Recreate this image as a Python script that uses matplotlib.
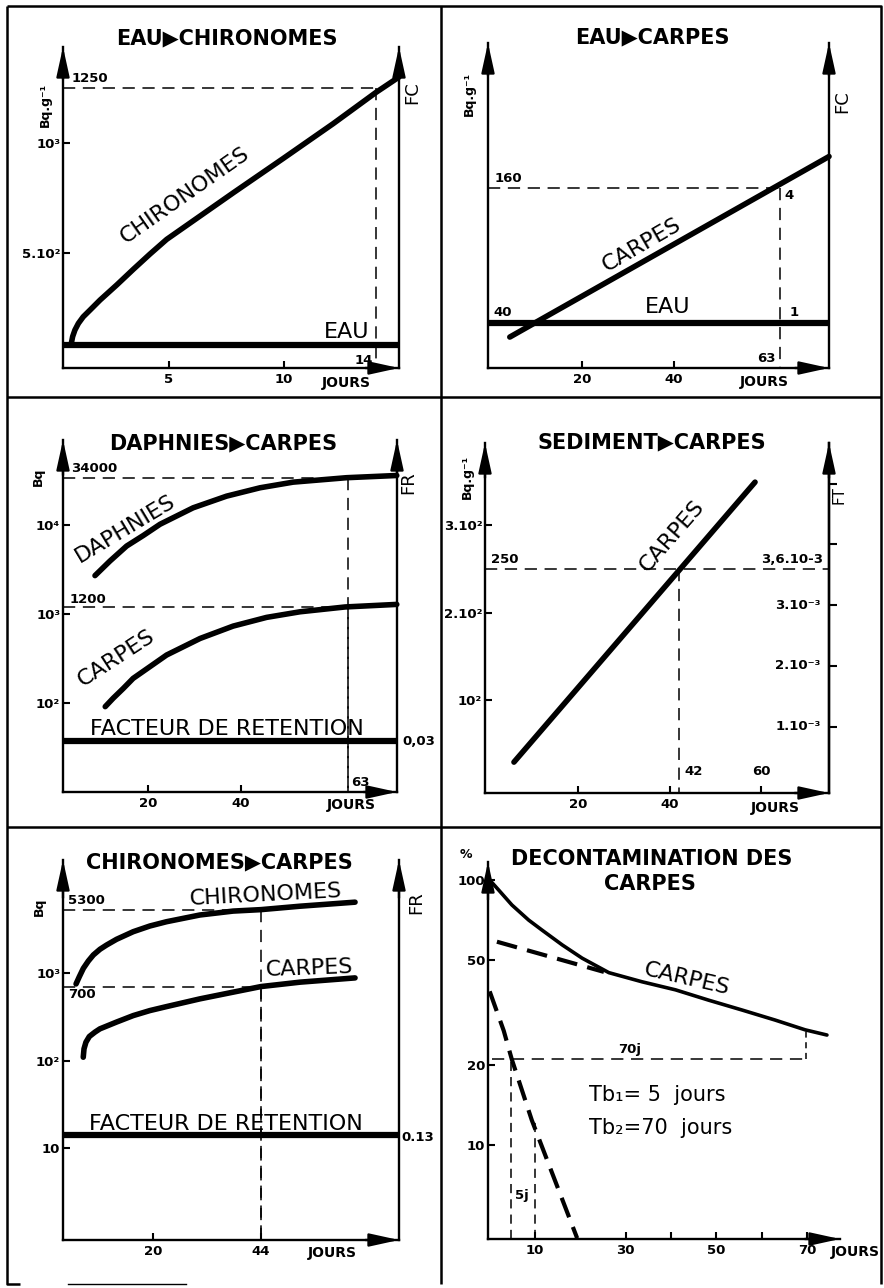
import numpy as np
import matplotlib.pyplot as plt
from matplotlib.ticker import NullLocator

plt.rcParams['font.family'] = ['DejaVu Sans']

W, H = 884, 1288

# ---------------- data ----------------
# EAU > CHIRONOMES  (Bq.g-1, linear)
p1_chiro_days = [0.74, 0.81, 0.91, 1.06, 1.27, 1.57, 2.0, 2.73, 3.45, 4.17, 4.9,
                 6.35, 7.8, 9.97, 12.14, 14.0, 15.0]
p1_chiro_bq = [82, 120, 150, 180, 210, 241, 286, 355, 426, 495, 562,
               668, 774, 930, 1088, 1230, 1300]
p1_eau_days = [0.4, 15.0]
p1_eau_bq = [80, 80]
p1_mark = (14, 1250)
p1_xticks = [5, 10]
p1_yticks = [500, 1000]
p1_ylabels = ['5.10²', '10³']

# EAU > CARPES  (Bq.g-1, linear)
p2_carpes_days = [4.3, 73.7]
p2_carpes_bq = [27.5, 188]
p2_eau_days = [-0.4, 73.7]
p2_eau_bq = [40, 40]
p2_mark = (63, 160)
p2_xticks = [20, 40]

# DAPHNIES > CARPES  (Bq, log)
p3_daph_days = [8.6, 11.8, 15.4, 19.0, 22.6, 29.7, 36.9, 44.1, 51.2, 62.7, 73.5]
p3_daph_bq = [2700, 3930, 5800, 7630, 10200, 15600, 21100, 26200, 30300, 34000, 36000]
p3_carp_days = [10.8, 12.5, 14.7, 16.8, 24.0, 31.2, 38.3, 45.5, 52.7, 62.4, 73.5]
p3_carp_bq = [91, 113, 146, 189, 346, 531, 731, 916, 1059, 1200, 1282]
p3_fr_days = [1.7, 73.5]
p3_fr_bq = [37, 37]
p3_marks = [(63, 34000), (63, 1200)]
p3_xticks = [20, 40]
p3_yticks = [1e2, 1e3, 1e4]
p3_ylabels = ['10²', '10³', '10⁴']

# SEDIMENT > CARPES  (Bq.g-1, linear ; FT on the right)
p4_days = [6.0, 58.7]
p4_carp_bq = [29, 349]
p4_mark = (42, 250)
p4_xticks = [20, 40, 60]
p4_xlabels = ['20', '40', '']
p4_yticks = [100, 200, 300]
p4_ylabels = ['10²', '2.10²', '3.10²']
p4_ft_per_bq = 3.6e-3 / 250
p4_ft_ticks = [1e-3, 2e-3, 3e-3, 4e-3, 5e-3]
p4_ft_labels = ['1.10⁻³', '2.10⁻³', '3.10⁻³', '', '']

# CHIRONOMES > CARPES  (Bq, log)
p5_chiro_days = [2.9, 3.63, 4.52, 5.63, 6.74, 8.22, 9.7, 11.9, 15.6, 19.3, 23.0,
                 30.4, 37.8, 44.0, 52.7, 64.9]
p5_chiro_bq = [750, 908, 1130, 1371, 1607, 1867, 2090, 2427, 2965, 3444, 3855,
               4600, 5100, 5300, 5800, 6450]
p5_carp_days = [4.5, 4.67, 5.1, 5.85, 7.1, 8.2, 11.9, 15.6, 19.3, 23.0, 30.4, 37.8, 44.0, 52.7, 64.9]
p5_carp_bq = [109, 136, 162, 188, 211, 230, 275, 326, 372, 413, 506, 604, 700, 786, 879]
p5_fr_days = [0.0, 74.7]
p5_fr_bq = [14.1, 14.1]
p5_marks = [(44, 5300), (44, 700)]
p5_xticks = [20, 44]
p5_yticks = [10, 100, 1000]
p5_ylabels = ['10', '10²', '10³']

# DECONTAMINATION DES CARPES  (%, log)
p6_days = [0, 2.0, 4.9, 8.6, 11.5, 16.0, 20.4, 26.3, 33.6, 41.0, 48.3, 55.7, 63.0, 69.6, 74.4]
p6_pct = [100, 91.6, 80.5, 70.6, 64.8, 56.9, 50.7, 44.7, 41.3, 38.5, 35.2, 32.3, 29.6, 27.2, 26.0]
p6_slow_days = [1.6, 25.2]
p6_slow_pct = [58.5, 45]
p6_fast_days = [0, 3.1, 4.9, 9.3, 19.3]
p6_fast_pct = [38, 27, 21, 12.4, 4.45]
p6_t1_days = [4.7, 10.0]
p6_t1_pct = [21, 12.4]
p6_t2_days = [0.5, 69.8]
p6_t2_pct = [21.1, 27.2]
p6_xticks = [10, 30, 50, 70]
p6_xminor = [40, 60]
p6_yticks = [10, 20, 50, 100]

# ---------------- styles ----------------
LW_AX = 1.7
LW_CURVE = 4.0
LW_REF = 1.1
DASH_REF = (0, (8, 5))
TICK_SIZE = 9.5

fig = plt.figure(figsize=(W / 100, H / 100), dpi=100)

# frame of the plate
bg = fig.add_axes([0, 0, 1, 1])
bg.set_xlim(0, W)
bg.set_ylim(H, 0)
bg.axis('off')
frame = dict(color='black', lw=1.8, solid_capstyle='butt')
bg.plot([7, 881, 881], [6, 6, 1284], **frame)
bg.plot([7, 7, 20], [6, 1284, 1284], **frame)
bg.plot([68, 186], [1284, 1284], color='black', lw=1.0)
bg.plot([441, 441], [6, 1284], **frame)
bg.plot([7, 881], [397, 397], **frame)
bg.plot([7, 881], [827, 827], **frame)


def ftext(px, py, s, size=10, weight='bold', rot=0, ha='center', va='center'):
    fig.text(px / W, 1 - py / H, s, fontsize=size, fontweight=weight,
             rotation=rot, ha=ha, va=va, rotation_mode='anchor')


def head(ax, start, end):
    ax.annotate('', xy=end, xytext=start, xycoords='axes fraction',
                arrowprops=dict(arrowstyle='-|>,head_length=1.5,head_width=0.33',
                                mutation_scale=12, lw=LW_AX, color='black',
                                shrinkA=0, shrinkB=0),
                annotation_clip=False)


def make_panel(box, xcal, ycal, log=False, right=True):
    left, top, rgt, bottom = box
    ax = fig.add_axes([left / W, 1 - bottom / H, (rgt - left) / W, (bottom - top) / H])
    (xa, pa), (xb, pb) = xcal
    kx = (xb - xa) / (pb - pa)
    ax.set_xlim(xa + (left - pa) * kx, xa + (rgt - pa) * kx)
    (ya, qa), (yb, qb) = ycal
    if log:
        ya, yb = np.log10(ya), np.log10(yb)
    ky = (yb - ya) / (qb - qa)
    lo, hi = ya + (bottom - qa) * ky, ya + (top - qa) * ky
    if log:
        ax.set_yscale('log')
        lo, hi = 10 ** lo, 10 ** hi
    ax.set_ylim(lo, hi)
    ax.patch.set_visible(False)
    ax.spines['top'].set_visible(False)
    ax.spines['right'].set_visible(right)
    for s in ['left', 'bottom', 'right']:
        ax.spines[s].set_linewidth(LW_AX)
    ax.tick_params(direction='in', length=5, width=1.5, labelsize=TICK_SIZE)
    ax.tick_params(axis='x', pad=3.5)
    ax.tick_params(axis='y', pad=2)
    ax.xaxis.set_minor_locator(NullLocator())
    ax.yaxis.set_minor_locator(NullLocator())
    ax.set_yticks([])
    head(ax, (0, 0.9), (0, 1))
    head(ax, (0.9, 0), (1, 0))
    if right:
        head(ax, (1, 0.9), (1, 1))
    return ax


def curve(ax, x, y, lw=LW_CURVE, cap='round', **kw):
    ax.plot(x, y, color='black', lw=lw, solid_capstyle=cap, solid_joinstyle='round',
            clip_on=False, **kw)


def ref_lines(ax, day, val):
    x0 = ax.get_xlim()[0]
    y0 = ax.get_ylim()[0]
    ax.plot([x0, day], [val, val], color='black', lw=LW_REF, ls=DASH_REF)
    ax.plot([day, day], [val, y0], color='black', lw=LW_REF, ls=DASH_REF)


def note(ax, s, xy, off, ha, va, trans='data', size=TICK_SIZE):
    ax.annotate(s, xy=xy, xycoords=trans, xytext=off, textcoords='offset points',
                ha=ha, va=va, fontsize=size, fontweight='bold', annotation_clip=False)


# ---------------- panel 1 : EAU > CHIRONOMES ----------------
ax1 = make_panel((63, 47, 399, 368), ((5, 169), (10, 284)), ((500, 253), (1000, 143)))
curve(ax1, p1_chiro_days, p1_chiro_bq)
curve(ax1, p1_eau_days, p1_eau_bq, lw=4.5, cap='butt')
ref_lines(ax1, *p1_mark)
ax1.set_xticks(p1_xticks, labels=[str(t) for t in p1_xticks], fontweight='bold')
ax1.set_yticks(p1_yticks, labels=p1_ylabels, fontweight='bold')
note(ax1, '1250', (0, p1_mark[1]), (6, 2), 'left', 'bottom', trans=ax1.get_yaxis_transform())
note(ax1, '14', (p1_mark[0], 0), (-2, 1), 'right', 'bottom', trans=ax1.get_xaxis_transform())
ftext(227, 38, 'EAU▶CHIRONOMES', size=15)
ftext(45, 105, 'Bq.g⁻¹', size=9, rot=90)
ftext(412, 93, 'FC', size=13, weight='normal', rot=90)
ftext(347, 332, 'EAU', size=16, weight='normal')
ftext(185, 195, 'CHIRONOMES', size=16, weight='normal', rot=35)
ftext(346, 383, 'JOURS', size=10)

# ---------------- panel 2 : EAU > CARPES ----------------
ax2 = make_panel((488, 43, 829, 368), ((20, 582), (40, 674)), ((40, 323), (160, 188)))
curve(ax2, p2_carpes_days, p2_carpes_bq)
curve(ax2, p2_eau_days, p2_eau_bq, lw=4.5, cap='butt')
ref_lines(ax2, *p2_mark)
ax2.set_xticks(p2_xticks, labels=[str(t) for t in p2_xticks], fontweight='bold')
note(ax2, '160', (0, p2_mark[1]), (5, 2), 'left', 'bottom', trans=ax2.get_yaxis_transform())
note(ax2, '40', (0, p2_eau_bq[0]), (4, 3), 'left', 'bottom', trans=ax2.get_yaxis_transform())
note(ax2, '4', (p2_mark[0], p2_mark[1]), (3, -1), 'left', 'top')
note(ax2, '1', (p2_mark[0], p2_eau_bq[0]), (7, 3), 'left', 'bottom')
note(ax2, '63', (p2_mark[0], 0), (-3, 2), 'right', 'bottom', trans=ax2.get_xaxis_transform())
ftext(652, 37, 'EAU▶CARPES', size=15)
ftext(469, 94, 'Bq.g⁻¹', size=9, rot=90)
ftext(842, 102, 'FC', size=13, weight='normal', rot=90)
ftext(668, 307, 'EAU', size=16, weight='normal')
ftext(642, 245, 'CARPES', size=16, weight='normal', rot=30)
ftext(764, 382, 'JOURS', size=10)

# ---------------- panel 3 : DAPHNIES > CARPES ----------------
ax3 = make_panel((63, 440, 397, 792), ((20, 148), (40, 241)), ((100, 703), (10000, 525)), log=True)
curve(ax3, p3_daph_days, p3_daph_bq)
curve(ax3, p3_carp_days, p3_carp_bq)
curve(ax3, p3_fr_days, p3_fr_bq, lw=4.5, cap='butt')
ref_lines(ax3, p3_marks[1][0], p3_marks[1][1])
ref_lines(ax3, p3_marks[0][0], p3_marks[0][1])
ax3.set_xticks(p3_xticks, labels=[str(t) for t in p3_xticks], fontweight='bold')
ax3.set_yticks(p3_yticks, labels=p3_ylabels, fontweight='bold')
ax3.yaxis.set_minor_locator(NullLocator())
note(ax3, '34000', (0, p3_marks[0][1]), (6, 2), 'left', 'bottom', trans=ax3.get_yaxis_transform())
note(ax3, '1200', (0, p3_marks[1][1]), (5, 1), 'left', 'bottom', trans=ax3.get_yaxis_transform())
note(ax3, '63', (p3_marks[0][0], 0), (2, 2), 'left', 'bottom', trans=ax3.get_xaxis_transform())
note(ax3, '0,03', (1, p3_fr_bq[0]), (4, 0), 'left', 'center', trans=ax3.get_yaxis_transform())
ftext(223, 443, 'DAPHNIES▶CARPES', size=15)
ftext(38, 477, 'Bq', size=9, rot=90)
ftext(408, 483, 'FR', size=13, weight='normal', rot=90)
ftext(125, 529, 'DAPHNIES', size=16, weight='normal', rot=31)
ftext(116, 658, 'CARPES', size=16, weight='normal', rot=33)
ftext(227, 729, 'FACTEUR DE RETENTION', size=16, weight='normal')
ftext(351, 805, 'JOURS', size=10)

# ---------------- panel 4 : SEDIMENT > CARPES ----------------
ax4 = make_panel((485, 443, 829, 793), ((20, 578), (60, 761)), ((100, 700), (300, 525)))
curve(ax4, p4_days, p4_carp_bq)
x0, x1 = ax4.get_xlim()
ax4.plot([x0, x1], [p4_mark[1], p4_mark[1]], color='black', lw=LW_REF, ls=DASH_REF)
ax4.plot([p4_mark[0], p4_mark[0]], [p4_mark[1], ax4.get_ylim()[0]], color='black', lw=LW_REF, ls=DASH_REF)
ax4.set_xticks(p4_xticks, labels=p4_xlabels, fontweight='bold')
ax4.set_yticks(p4_yticks, labels=p4_ylabels, fontweight='bold')
sec = ax4.secondary_yaxis('right', functions=(lambda b: b * p4_ft_per_bq, lambda f: f / p4_ft_per_bq))
sec.set_ticks(p4_ft_ticks)
sec.tick_params(direction='out', length=6, width=1.5, labelright=False)
sec.spines['right'].set_linewidth(LW_AX)
for v, lab in zip(p4_ft_ticks, p4_ft_labels):
    note(ax4, lab, (1, v / p4_ft_per_bq), (-6, 0), 'right', 'center', trans=ax4.get_yaxis_transform())
note(ax4, '250', (0, p4_mark[1]), (4, 2), 'left', 'bottom', trans=ax4.get_yaxis_transform())
note(ax4, '3,6.10-3', (1, p4_mark[1]), (-4, 2), 'right', 'bottom', trans=ax4.get_yaxis_transform())
note(ax4, '42', (p4_mark[0], 0), (4, 11), 'left', 'bottom', trans=ax4.get_xaxis_transform())
note(ax4, '60', (p4_xticks[2], 0), (0, 11), 'center', 'bottom', trans=ax4.get_xaxis_transform())
ftext(652, 442, 'SEDIMENT▶CARPES', size=15)
ftext(467, 477, 'Bq.g⁻¹', size=9, rot=90)
ftext(839, 495, 'FT', size=11, weight='normal', rot=90)
ftext(672, 536, 'CARPES', size=16, weight='normal', rot=49)
ftext(775, 808, 'JOURS', size=10)

# ---------------- panel 5 : CHIRONOMES > CARPES ----------------
ax5 = make_panel((63, 860, 399, 1240), ((20, 153), (44, 261)), ((10, 1148), (1000, 973)), log=True)
curve(ax5, p5_chiro_days, p5_chiro_bq)
curve(ax5, p5_carp_days, p5_carp_bq)
curve(ax5, p5_fr_days, p5_fr_bq, lw=4.5, cap='butt')
ref_lines(ax5, p5_marks[1][0], p5_marks[1][1])
ref_lines(ax5, p5_marks[0][0], p5_marks[0][1])
ax5.set_xticks(p5_xticks, labels=[str(t) for t in p5_xticks], fontweight='bold')
ax5.set_yticks(p5_yticks, labels=p5_ylabels, fontweight='bold')
ax5.yaxis.set_minor_locator(NullLocator())
note(ax5, '5300', (0, p5_marks[0][1]), (3.5, 2), 'left', 'bottom', trans=ax5.get_yaxis_transform())
note(ax5, '700', (0, p5_marks[1][1]), (3.5, -1), 'left', 'top', trans=ax5.get_yaxis_transform())
note(ax5, '0.13', (1, p5_fr_bq[0]), (2, -2), 'left', 'center', trans=ax5.get_yaxis_transform())
ftext(219, 862, 'CHIRONOMES▶CARPES', size=15)
ftext(39, 907, 'Bq', size=9, rot=90)
ftext(416, 903, 'FR', size=13, weight='normal', rot=90)
ftext(266, 895, 'CHIRONOMES', size=16, weight='normal', rot=3)
ftext(309, 968, 'CARPES', size=16, weight='normal', rot=2)
ftext(226, 1124, 'FACTEUR DE RETENTION', size=16, weight='normal')
ftext(332, 1253, 'JOURS', size=10)

# ---------------- panel 6 : DECONTAMINATION ----------------
ax6 = make_panel((488, 862, 840, 1239), ((10, 535), (70, 807)), ((10, 1145), (100, 880)),
                 log=True, right=False)
curve(ax6, p6_days, p6_pct, lw=2.6)
ax6.plot(p6_slow_days, p6_slow_pct, color='black', lw=3.0, ls=(0, (5, 2.5)))
ax6.plot(p6_fast_days, p6_fast_pct, color='black', lw=3.0, ls=(0, (5, 2.5)), clip_on=False)
ybot = ax6.get_ylim()[0]
for d, p in zip(p6_t1_days, p6_t1_pct):
    ax6.plot([d, d], [ybot, p], color='black', lw=LW_REF, ls=(0, (6, 4)))
ax6.plot(p6_t2_days, [p6_t2_pct[0], p6_t2_pct[0]], color='black', lw=LW_REF, ls=(0, (8, 5)))
ax6.plot([p6_t2_days[1], p6_t2_days[1]], p6_t2_pct, color='black', lw=LW_REF, ls=(0, (4, 3)))
ax6.set_xticks(p6_xticks, labels=[str(t) for t in p6_xticks], fontweight='bold')
ax6.set_xticks(p6_xminor, minor=True)
ax6.tick_params(which='minor', direction='in', length=5, width=1.5)
ax6.set_yticks(p6_yticks, labels=[str(t) for t in p6_yticks], fontweight='bold')
ax6.yaxis.set_minor_locator(NullLocator())
ftext(652, 859, 'DECONTAMINATION DES', size=15)
ftext(650, 884, 'CARPES', size=15)
ftext(466, 854, '%', size=9)
ftext(687, 979, 'CARPES', size=16, weight='normal', rot=-13)
ftext(630, 1049, '70j', size=9.5)
ftext(522, 1196, '5j', size=9.5)
ftext(589, 1095, 'Tb₁= 5  jours', size=15, weight='normal', ha='left')
ftext(589, 1128, 'Tb₂=70  jours', size=15, weight='normal', ha='left')
ftext(855, 1252, 'JOURS', size=10)

fig.savefig('out.png', dpi=100)
